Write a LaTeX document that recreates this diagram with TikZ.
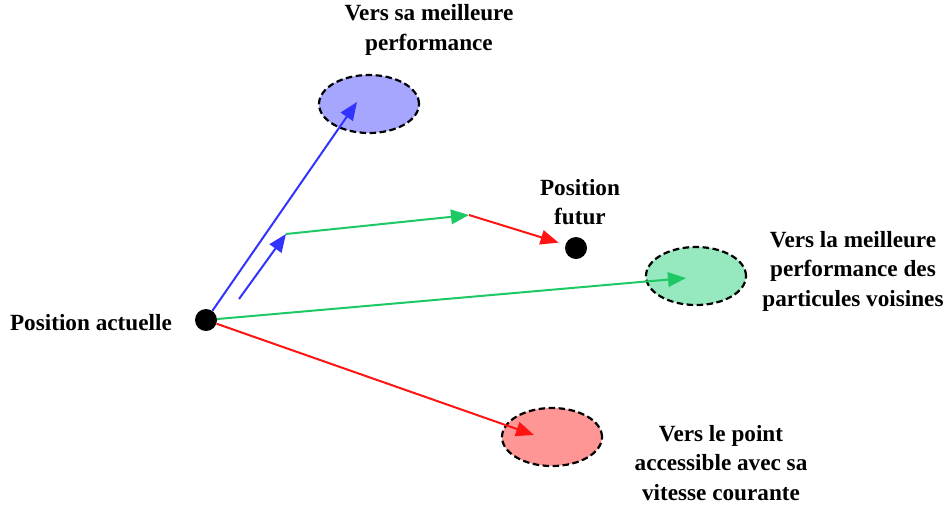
\documentclass[tikz,border=0pt]{standalone}
\usepackage{fontspec}
\setmainfont{Liberation Serif}
\usetikzlibrary{shapes.geometric,arrows.meta}
\definecolor{bluevec}{RGB}{51,51,255}
\definecolor{greenvec}{RGB}{30,200,100}
\definecolor{redvec}{RGB}{255,20,20}
\definecolor{bluefill}{RGB}{166,166,255}
\definecolor{greenfill}{RGB}{150,232,190}
\definecolor{redfill}{RGB}{255,150,150}
\tikzset{
  target/.style={ellipse, draw=black, line width=2.2pt, dash pattern=on 6.5pt off 3.5pt,
                 minimum width=100pt, minimum height=58pt, inner sep=0pt},
  dot/.style={circle, fill=black, minimum size=22pt, inner sep=0pt},
  vec/.style={line width=2pt, -{Triangle[length=18pt,width=14.5pt]}},
  lbl/.style={font=\fontsize{23.2pt}{29.5pt}\selectfont\bfseries, align=center, inner sep=0pt}
}
\begin{document}
\begin{tikzpicture}[x=1pt,y=-1pt]
\useasboundingbox (0,0) rectangle (944,507);
% target regions
\node[target, fill=bluefill]  (best)  at (369,104) {};
\node[target, fill=greenfill] (group) at (696,276) {};
\node[target, fill=redfill]   (inert) at (552,437) {};
% particle positions
\node[dot] (now) at (206,320) {};
\node[dot] (next) at (576,248) {};
% arrow end points
\coordinate (tbest)  at (357,102);
\coordinate (tgroup) at (686,278);
\coordinate (tinert) at (534,435);
\coordinate (s0) at (239,299);
\coordinate (s1) at (286,234);
\coordinate (s2) at (469,215);
% component vectors from the current position
\draw[vec, bluevec]  (now) -- (tbest);
\draw[vec, greenvec] (now) -- (tgroup);
\draw[vec, redvec]   (now) -- (tinert);
% vector sum leading to the future position
\draw[vec, bluevec]  (s0) -- (s1);
\draw[vec, greenvec] (s1) -- (s2);
\draw[vec, redvec, shorten >=7pt] (s2) -- (next);
% labels
\node[lbl] (lbest) at (429,30) {Vers sa meilleure\\performance};
\node[lbl] (lnext) at (580,202) {Position\\futur};
\node[lbl] (lgroup) at (853,271) {Vers la meilleure\\performance des\\particules voisines};
\node[lbl, anchor=east] (lnow) at (172,323) {Position actuelle};
\node[lbl] (linert) at (721,463) {Vers le point\\accessible avec sa\\vitesse courante};
\end{tikzpicture}
\end{document}
